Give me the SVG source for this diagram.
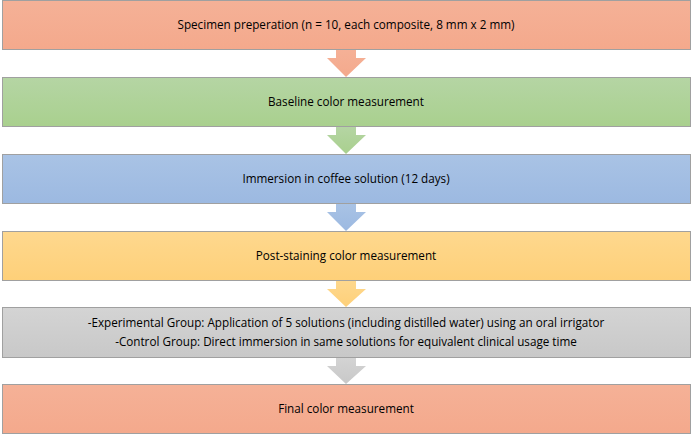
<svg xmlns="http://www.w3.org/2000/svg" width="693" height="435" viewBox="0 0 693 435">
<defs>
<linearGradient id="gO" x1="0" y1="0" x2="0" y2="1"><stop offset="0" stop-color="#f5b197"/><stop offset="1" stop-color="#f4a98c"/></linearGradient>
<linearGradient id="gG" x1="0" y1="0" x2="0" y2="1"><stop offset="0" stop-color="#b5d5a4"/><stop offset="1" stop-color="#a9d08e"/></linearGradient>
<linearGradient id="gB" x1="0" y1="0" x2="0" y2="1"><stop offset="0" stop-color="#a9c3e5"/><stop offset="1" stop-color="#9cb9e1"/></linearGradient>
<linearGradient id="gY" x1="0" y1="0" x2="0" y2="1"><stop offset="0" stop-color="#fed88e"/><stop offset="1" stop-color="#fed079"/></linearGradient>
<linearGradient id="gS" x1="0" y1="0" x2="0" y2="1"><stop offset="0" stop-color="#d4d4d4"/><stop offset="1" stop-color="#c8c8c8"/></linearGradient>
</defs>
<style>
rect{stroke:#a0a0a0;stroke-width:1}
text{font-family:"Open Sans","Liberation Sans",sans-serif;font-size:11.7px;fill:#000;text-anchor:middle}
</style>
<g id="connectors">
<path d="M336,49H356V58H366L346,77L327,58H336Z" fill="url(#gO)"/>
<path d="M336,126H356V135H366L346,154L327,135H336Z" fill="url(#gG)"/>
<path d="M336,203H356V212H366L346,231L327,212H336Z" fill="url(#gB)"/>
<path d="M336,280H356V289H366L346,307L327,289H336Z" fill="url(#gY)"/>
<path d="M336,357H356V366H366L346,384L327,366H336Z" fill="url(#gS)"/>
</g>
<g id="n1"><rect x="2.5" y="0.5" width="688" height="49" fill="url(#gO)"/><text x="346" y="29">Specimen preperation (n = 10, each composite, 8 mm x 2 mm)</text></g>
<g id="n2"><rect x="2.5" y="77.5" width="688" height="49" fill="url(#gG)"/><text x="346" y="106">Baseline color measurement</text></g>
<g id="n3"><rect x="2.5" y="154.5" width="688" height="49" fill="url(#gB)"/><text x="346" y="183">Immersion in coffee solution (12 days)</text></g>
<g id="n4"><rect x="2.5" y="231.5" width="688" height="49" fill="url(#gY)"/><text x="346" y="260">Post-staining color measurement</text></g>
<g id="n5"><rect x="2.5" y="307.5" width="688" height="50" fill="url(#gS)"/><text x="346" y="327">-Experimental Group: Application of 5 solutions (including distilled water) using an oral irrigator</text><text x="346" y="346">-Control Group: Direct immersion in same solutions for equivalent clinical usage time</text></g>
<g id="n6"><rect x="2.5" y="384.5" width="688" height="49" fill="url(#gO)"/><text x="346" y="413">Final color measurement</text></g>
</svg>
